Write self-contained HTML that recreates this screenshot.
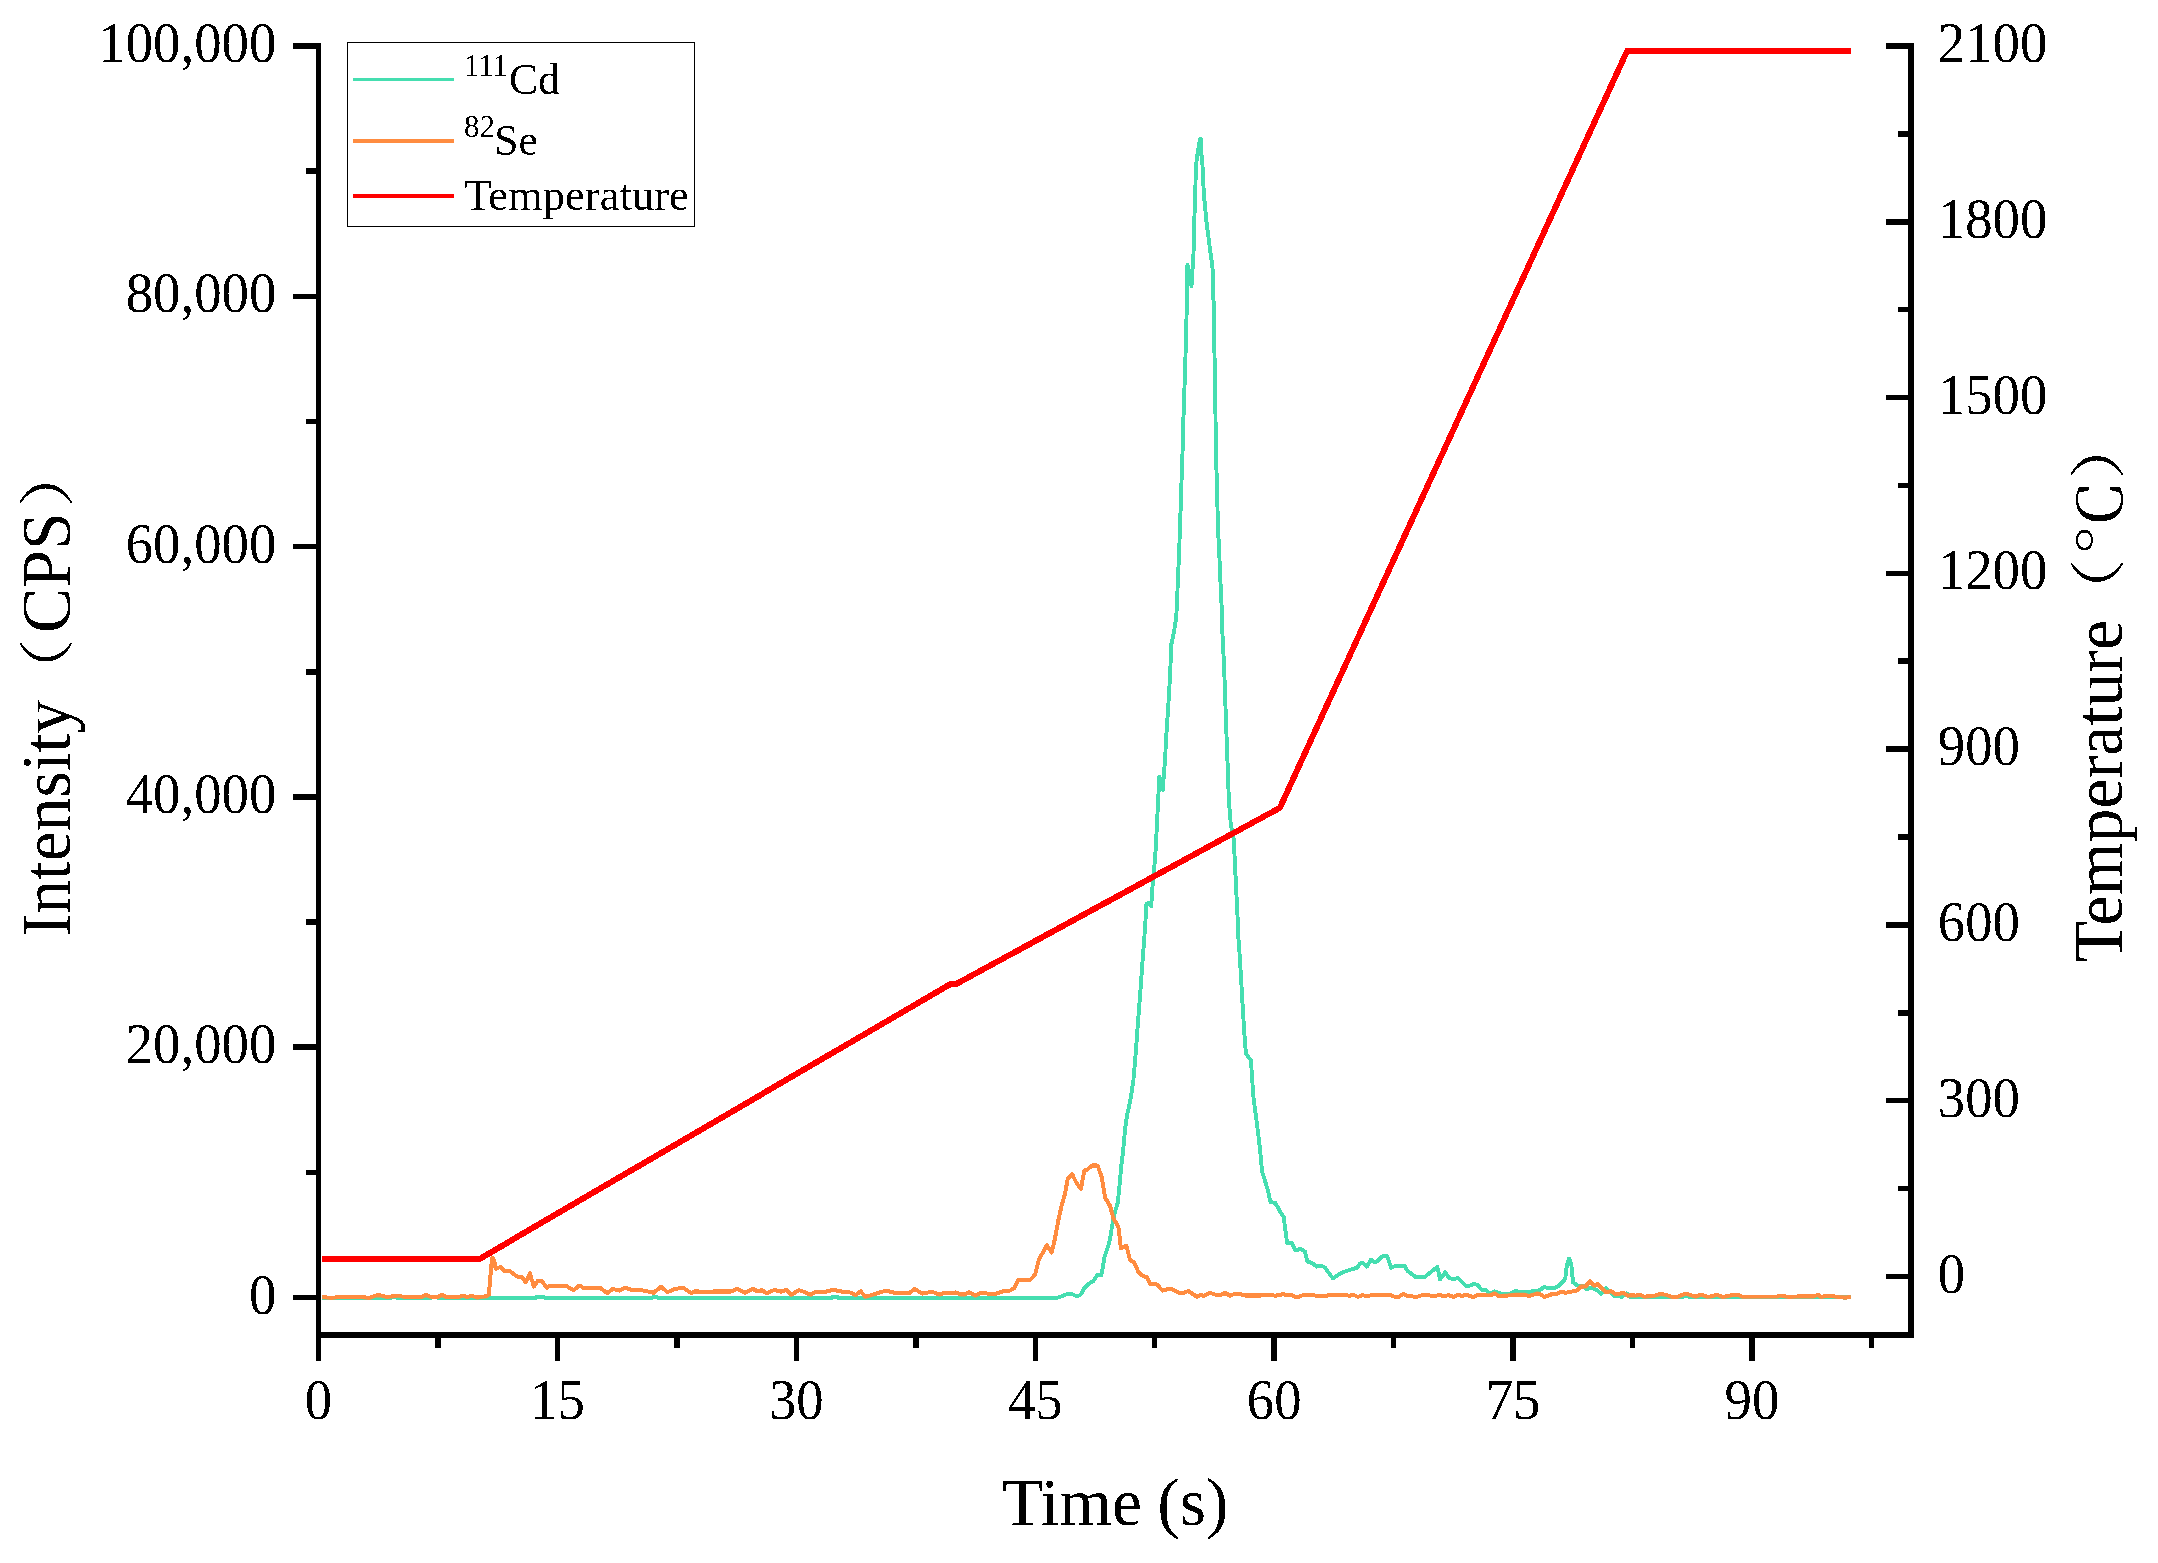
<!DOCTYPE html>
<html lang="en">
<head>
<meta charset="utf-8">
<title>Intensity and temperature versus time</title>
<style>
html,body{margin:0;padding:0;background:#fff;}
body{width:2158px;height:1563px;overflow:hidden;}
svg{display:block;}
text{font-family:"Liberation Serif","Noto Serif CJK SC",serif;}
</style>
</head>
<body>
<svg width="2158" height="1563" viewBox="0 0 2158 1563">
<rect x="0" y="0" width="2158" height="1563" fill="#fff"/>
<defs><filter id="thr" filterUnits="userSpaceOnUse" x="0" y="0" width="2158" height="1563" color-interpolation-filters="sRGB"><feComponentTransfer><feFuncA type="discrete" tableValues="0 1"/></feComponentTransfer></filter></defs>
<g stroke="#000" stroke-width="5.5" fill="none" shape-rendering="crispEdges">
<line x1="318.5" y1="43" x2="318.5" y2="1361"/>
<line x1="316" y1="1335.0" x2="1914" y2="1335.0"/>
<line x1="1911.0" y1="43" x2="1911.0" y2="1338"/>
<line x1="293" y1="1297.5" x2="317" y2="1297.5"/>
<line x1="306" y1="1172.3" x2="317" y2="1172.3"/>
<line x1="293" y1="1047.2" x2="317" y2="1047.2"/>
<line x1="306" y1="922.0" x2="317" y2="922.0"/>
<line x1="293" y1="796.9" x2="317" y2="796.9"/>
<line x1="306" y1="671.8" x2="317" y2="671.8"/>
<line x1="293" y1="546.6" x2="317" y2="546.6"/>
<line x1="306" y1="421.5" x2="317" y2="421.5"/>
<line x1="293" y1="296.3" x2="317" y2="296.3"/>
<line x1="306" y1="171.2" x2="317" y2="171.2"/>
<line x1="293" y1="46.0" x2="317" y2="46.0"/>
<line x1="1886" y1="1276.5" x2="1909" y2="1276.5"/>
<line x1="1898" y1="1188.6" x2="1909" y2="1188.6"/>
<line x1="1886" y1="1100.7" x2="1909" y2="1100.7"/>
<line x1="1898" y1="1012.8" x2="1909" y2="1012.8"/>
<line x1="1886" y1="924.9" x2="1909" y2="924.9"/>
<line x1="1898" y1="837.0" x2="1909" y2="837.0"/>
<line x1="1886" y1="749.1" x2="1909" y2="749.1"/>
<line x1="1898" y1="661.2" x2="1909" y2="661.2"/>
<line x1="1886" y1="573.4" x2="1909" y2="573.4"/>
<line x1="1898" y1="485.5" x2="1909" y2="485.5"/>
<line x1="1886" y1="397.6" x2="1909" y2="397.6"/>
<line x1="1898" y1="309.7" x2="1909" y2="309.7"/>
<line x1="1886" y1="221.8" x2="1909" y2="221.8"/>
<line x1="1898" y1="133.9" x2="1909" y2="133.9"/>
<line x1="1886" y1="46.0" x2="1909" y2="46.0"/>
<line x1="438.0" y1="1337" x2="438.0" y2="1348"/>
<line x1="557.4" y1="1337" x2="557.4" y2="1361"/>
<line x1="676.9" y1="1337" x2="676.9" y2="1348"/>
<line x1="796.3" y1="1337" x2="796.3" y2="1361"/>
<line x1="915.8" y1="1337" x2="915.8" y2="1348"/>
<line x1="1035.3" y1="1337" x2="1035.3" y2="1361"/>
<line x1="1154.7" y1="1337" x2="1154.7" y2="1348"/>
<line x1="1274.2" y1="1337" x2="1274.2" y2="1361"/>
<line x1="1393.6" y1="1337" x2="1393.6" y2="1348"/>
<line x1="1513.1" y1="1337" x2="1513.1" y2="1361"/>
<line x1="1632.6" y1="1337" x2="1632.6" y2="1348"/>
<line x1="1752.0" y1="1337" x2="1752.0" y2="1361"/>
<line x1="1871.5" y1="1337" x2="1871.5" y2="1348"/>
</g>
<g filter="url(#thr)">
<polyline points="322,1298 341.2,1298 363.4,1298 391.1,1298 392.1,1297 396.2,1297 397.2,1298 398.2,1298 430.6,1298 431.6,1297 437,1297 438,1298 439,1298 475,1298 507.4,1298 535.4,1298 536.4,1297 544.2,1297 545.2,1298 546.2,1298 579.3,1298 609.6,1298 625,1298 652,1298 653,1297 657.2,1297 658.2,1298 659.2,1298 692.3,1298 722.1,1298 751.8,1298 774.5,1298 798.3,1298 831.6,1298 832.6,1297 837.4,1297 838.4,1298 839.4,1298 858.2,1298 881.8,1298 902.4,1298 924.9,1298 951.8,1298 985.7,1298 1020.1,1298 1055.9,1298 1060.1,1296.9 1066.8,1294.3 1072.4,1294.3 1076.8,1296.2 1080.7,1294.5 1084.6,1287.8 1089,1283.4 1093.5,1281.1 1097.4,1274.5 1101.3,1275.6 1104.6,1256.7 1109.1,1243.3 1110.1,1238.1 1112.3,1224.7 1114.5,1213.6 1117.8,1202.5 1119.5,1185.8 1121.2,1166.8 1122.9,1152.4 1124,1141.2 1125.1,1129 1126.8,1116.7 1129.5,1104.5 1131.8,1091.1 1133.4,1080 1134,1073.6 1135.7,1053.6 1137.3,1031.3 1139,1009 1140.7,986.8 1142.3,964.5 1144,942.3 1145.5,920 1145.7,915.9 1146.5,903.6 1149,903 1151.2,906.5 1152.4,888 1154,871.3 1155.7,849 1156.8,826.8 1157.9,804.5 1158.5,793.4 1159.3,776.7 1162.9,790 1164,771 1165.2,760 1165.7,744.7 1166.8,728 1167.9,711.3 1169.1,692.4 1170.2,672.4 1171.3,644.5 1174.1,631.2 1176.3,616.7 1177.1,600 1178,576.9 1179.1,553.5 1179.9,529 1181,497.9 1182.1,462.3 1183,440 1183,431.4 1184.1,398 1185.2,366.8 1186,335.7 1186.9,302 1187.2,289 1187.4,264.7 1191.5,286 1193.5,253.6 1194.1,224.6 1195.2,196.8 1195.8,168.4 1196.9,157.2 1197.9,151.1 1198.9,145 1199.9,139.5 1200.6,138.6 1201.2,140 1201.3,152.6 1202.2,161 1203.1,176 1203.5,186.8 1204.5,201.3 1206.3,220.2 1209.1,242.5 1211.4,259.2 1212.7,270.3 1213,294 1213.6,302 1214.1,335.7 1215,380 1215.6,424.7 1216,454 1216.9,484.5 1218,529 1219.2,551.3 1220,573.6 1221.2,595.8 1221.9,614 1221.9,622.3 1223,644.5 1224.2,669 1225,694.6 1226,720.2 1226.9,748 1228,774 1228.1,782.3 1229.2,804.5 1230.8,824.6 1233.6,837.9 1234.2,849 1235.3,871.3 1236.4,893.6 1237.5,915.9 1238.1,934 1239.2,947.8 1240.9,975.7 1242.5,1003.5 1244.2,1031.3 1245.9,1053.6 1250.9,1060.3 1252,1075.8 1253.1,1094 1254.8,1107.8 1257,1124.5 1259.2,1142.3 1260.9,1157.9 1262,1171.3 1264.8,1180.2 1268.1,1191.3 1270.4,1201.9 1275.4,1203 1279.3,1210.2 1283.7,1216.9 1285.4,1230.3 1287.1,1243.1 1291.5,1242.5 1295.4,1250.3 1300.4,1249 1304.9,1251.4 1307.4,1261.7 1311.8,1262.8 1316.8,1266.7 1320.7,1265.6 1324.6,1267.3 1333,1278.4 1341.3,1272.8 1349.1,1270 1356.9,1267.8 1360,1263.4 1362.8,1262.8 1366.7,1266.7 1371.1,1259.5 1374.5,1262.3 1376.7,1261.7 1381.1,1257.3 1383.9,1255.6 1387.2,1256.1 1391.1,1267.8 1395.6,1265.8 1404.5,1265.8 1407.8,1271.2 1415.6,1276.9 1424.5,1277.3 1431.2,1271.7 1437.3,1266.7 1440.1,1279.5 1445.1,1272.3 1449,1277.8 1453.4,1279.5 1457.9,1277.8 1465.7,1285.6 1469.5,1285.8 1474,1283.9 1477.9,1285.1 1482.3,1290.6 1485.7,1289.5 1489.6,1294 1494.6,1291.2 1500.1,1293.4 1507.9,1294.3 1515.1,1291.2 1526.8,1292.3 1532.4,1291.2 1540.2,1290.1 1544.1,1286.7 1548,1288.4 1553.5,1288.4 1559.1,1285.6 1565.2,1278.9 1566.9,1264.5 1569.1,1258.4 1571.3,1264.5 1573,1282.3 1576.9,1285.1 1580,1285.6 1583.3,1285.6 1586.7,1289 1591.1,1287.8 1596.7,1290.1 1601.1,1294 1606.1,1288.1 1613.4,1295.6 1622.3,1296.7 1626.7,1293.4 1630,1296.7 1635.6,1297.3 1655.6,1297.3 1661.2,1296.5 1669,1297.3 1680.1,1297.3 1685.7,1296.2 1691.2,1297.3 1746.8,1297.3 1820,1297.3 1850.9,1297.3" fill="none" stroke="#45deb0" stroke-width="3.9" stroke-linejoin="round"/>
<polyline points="322.2,1297.1 332.2,1297.9 339.7,1296.7 361.9,1297.1 369.3,1297.9 375.2,1295.6 381.2,1295.6 387.1,1297.1 399,1295.6 404.9,1297.1 421.2,1297.1 425.7,1294.9 431.6,1297.1 437.5,1297.1 442,1294.9 446.4,1297.1 458.3,1297.1 462.7,1295.6 467.2,1297.1 471.6,1295.6 477.6,1297.6 480,1296.9 486.7,1296.2 488.9,1294.5 490.6,1273.4 492.2,1257.8 493.9,1260 496.1,1268.9 500.6,1266.7 504.5,1270.9 509.5,1270.9 517.3,1276.7 521.7,1276.9 525.6,1282 529.8,1273.4 533.9,1286.7 537.8,1280.9 541.7,1280.9 546.7,1287.8 550.1,1285.8 559,1285.8 566.7,1286.2 573.4,1290.3 579.3,1285.6 583.4,1287.8 592.3,1288.4 600.1,1287.8 607.3,1293.2 612.9,1288.9 619.6,1290.6 625.1,1287.6 631.3,1289.8 643.5,1290.6 653.5,1292.8 661.3,1286.7 667.4,1292.3 674.6,1288.9 683.5,1287.8 691.3,1293.2 695.2,1291.2 702.4,1291.7 713.5,1291.4 731.1,1291.4 736.7,1288.9 745,1292.8 752.8,1288.9 757.8,1291.4 761.7,1290 766.7,1293.4 774,1290 781.2,1291.7 786.2,1289.8 791.2,1294.7 799,1290 810.7,1294.7 815.7,1292 825.7,1291.7 833.5,1289.8 844.6,1292.3 849,1292 855.7,1295.1 860.7,1291.2 865.2,1296.7 871.3,1295.1 885.7,1290.6 893.5,1292.5 909.1,1293.4 914.6,1288.9 922.4,1293.6 931.3,1291.7 940,1294.5 940,1294.5 943.9,1292.8 952.3,1293.4 955.6,1292.5 961.1,1294.5 964.5,1294.5 968.9,1292.3 975.6,1295.6 981.2,1292.5 989,1293.9 996.7,1293.4 1004.5,1290.9 1010.1,1290.6 1014.5,1287.8 1018.4,1280 1030.1,1279.8 1035.1,1274.5 1038.8,1260 1046.7,1245.1 1051.7,1252.6 1055,1238.4 1058.4,1220.1 1061.7,1205.1 1065.1,1193.4 1067.6,1179.2 1072.1,1174.2 1076.7,1183.4 1080.9,1189.2 1084.2,1170.9 1087.6,1169.2 1092.2,1165.4 1097.6,1165.4 1101.8,1177.5 1105.1,1197.6 1110.1,1205.9 1113.4,1218.4 1118.4,1226.7 1120.9,1248.4 1126.4,1245.9 1130.1,1260 1134.1,1262.2 1138.5,1272.3 1142.4,1275.6 1146.9,1277.3 1150.8,1284.5 1154.7,1283.9 1158,1285 1160,1287.8 1162.8,1290.6 1167.8,1289 1172.3,1289.2 1178.9,1292.8 1183.9,1292.8 1188.4,1291 1196.7,1296.7 1200.6,1295.1 1203.9,1295.8 1209.5,1292.8 1215.6,1294.7 1221.2,1294.7 1225.1,1292.8 1230.1,1295.8 1234,1294 1240.1,1294 1245.1,1295.6 1260.1,1295.6 1262.3,1294.7 1269,1295.6 1271.2,1294.7 1275.1,1295.8 1283.5,1294 1287.9,1295.6 1291.8,1295.1 1295.7,1297 1299,1296.7 1304.6,1294.7 1312.4,1294.7 1316.8,1296.2 1325.7,1296.2 1330.2,1294.7 1345.7,1294.7 1349.1,1295.8 1353.5,1294.7 1358,1297 1362.4,1295.1 1368,1296.2 1372.4,1294.7 1380,1294.7 1391.1,1295.1 1395.6,1297.3 1398.9,1296.7 1403.4,1293.6 1407.8,1296.2 1417.8,1296.7 1423.4,1294.7 1429,1295.1 1432.3,1296.2 1440.1,1295.1 1443.4,1296.2 1449,1295.1 1453.4,1297 1457.9,1294.7 1462.3,1296.2 1465.7,1294.7 1473.4,1297 1477.9,1294.7 1490.1,1295.4 1494.6,1293.4 1499,1296.2 1507.9,1295.6 1515.7,1294.7 1524.6,1294.7 1529,1296.2 1536.8,1293.6 1540.2,1294 1544.1,1297 1552.4,1294 1558,1293.4 1561.3,1291.7 1565.7,1292.8 1576.9,1290.6 1581.3,1286.2 1585.8,1286.5 1589.7,1281.2 1594.1,1285.6 1598,1283.9 1600,1286.7 1606.1,1292.3 1611.1,1291.2 1615.6,1294.3 1618.9,1294 1622.8,1292.8 1627.8,1295.6 1635.6,1295.6 1640.1,1294.7 1644.5,1296.7 1655.6,1295.4 1660.6,1294 1665.6,1294.7 1673.4,1297.3 1677.9,1296.7 1685.7,1293.6 1695.7,1296.7 1701.2,1294.7 1706.8,1296.7 1712.3,1296.2 1717.3,1294.7 1722.4,1297 1726.8,1296.2 1733.5,1294.7 1739,1295.1 1742.4,1296.7 1776.8,1296.5 1780.2,1295.6 1789.1,1297 1796.9,1296.5 1813.5,1296.5 1818,1294.7 1820,1296.5 1821.7,1296.9 1826.7,1295.7 1831.8,1296.1 1838.4,1296.9 1845.9,1297.4 1850.9,1296.7" fill="none" stroke="#ff8c40" stroke-width="4.0" stroke-linejoin="round"/>
<polyline points="322,1258.8 479.8,1258.8 950.8,983.9 956.4,983.9 1279.8,807.9 1627.2,50.8 1850.9,50.8" fill="none" stroke="#ff0000" stroke-width="6" stroke-linejoin="round"/>
</g>
<g font-size="56.5" fill="#000" filter="url(#thr)">
<text x="276.4" y="1313.5" text-anchor="end" textLength="27.4" lengthAdjust="spacingAndGlyphs">0</text>
<text x="276.4" y="1063.2" text-anchor="end" textLength="150.7" lengthAdjust="spacingAndGlyphs">20,000</text>
<text x="276.4" y="812.9" text-anchor="end" textLength="150.7" lengthAdjust="spacingAndGlyphs">40,000</text>
<text x="276.4" y="562.6" text-anchor="end" textLength="150.7" lengthAdjust="spacingAndGlyphs">60,000</text>
<text x="276.4" y="312.3" text-anchor="end" textLength="150.7" lengthAdjust="spacingAndGlyphs">80,000</text>
<text x="276.4" y="62.0" text-anchor="end" textLength="178.1" lengthAdjust="spacingAndGlyphs">100,000</text>
<text x="1937.8" y="1292.5" textLength="27.4" lengthAdjust="spacingAndGlyphs">0</text>
<text x="1937.8" y="1116.7" textLength="82.2" lengthAdjust="spacingAndGlyphs">300</text>
<text x="1937.8" y="940.9" textLength="82.2" lengthAdjust="spacingAndGlyphs">600</text>
<text x="1937.8" y="765.1" textLength="82.2" lengthAdjust="spacingAndGlyphs">900</text>
<text x="1937.8" y="589.4" textLength="109.6" lengthAdjust="spacingAndGlyphs">1200</text>
<text x="1937.8" y="413.6" textLength="109.6" lengthAdjust="spacingAndGlyphs">1500</text>
<text x="1937.8" y="237.8" textLength="109.6" lengthAdjust="spacingAndGlyphs">1800</text>
<text x="1937.8" y="62.0" textLength="109.6" lengthAdjust="spacingAndGlyphs">2100</text>
<text x="318.5" y="1419.3" text-anchor="middle" textLength="27.4" lengthAdjust="spacingAndGlyphs">0</text>
<text x="557.4" y="1419.3" text-anchor="middle" textLength="54.8" lengthAdjust="spacingAndGlyphs">15</text>
<text x="796.3" y="1419.3" text-anchor="middle" textLength="54.8" lengthAdjust="spacingAndGlyphs">30</text>
<text x="1035.3" y="1419.3" text-anchor="middle" textLength="54.8" lengthAdjust="spacingAndGlyphs">45</text>
<text x="1274.2" y="1419.3" text-anchor="middle" textLength="54.8" lengthAdjust="spacingAndGlyphs">60</text>
<text x="1513.1" y="1419.3" text-anchor="middle" textLength="54.8" lengthAdjust="spacingAndGlyphs">75</text>
<text x="1752.0" y="1419.3" text-anchor="middle" textLength="54.8" lengthAdjust="spacingAndGlyphs">90</text>
</g>
<g fill="#000" filter="url(#thr)">
<text x="1002.0" y="1524.6" font-size="67.5">Time<tspan dx="-1.6"> (s)</tspan></text>
<text transform="translate(70.2,936.3) rotate(-90) scale(1.0,1.04)" font-size="67.5">Intensity</text>
<text transform="translate(67.2,705.5) rotate(-90) scale(1.0,0.83)" font-size="67.5">（</text>
<text transform="translate(70.2,633.0) rotate(-90) scale(1.005,1.04)" font-size="67.5">CPS</text>
<text transform="translate(67.2,507.5) rotate(-90) scale(1.0,0.83)" font-size="67.5">）</text>
<text transform="translate(2122.3,962.2) rotate(-90) scale(1.007,1.04)" font-size="67.5">Temperature</text>
<text transform="translate(2118.1,625.7) rotate(-90) scale(1.0,0.83)" font-size="67.5">（</text>
<text transform="translate(2122.0,556.2) rotate(-90) scale(1.14,0.9)" font-size="67.5">℃</text>
<text transform="translate(2118.1,479.5) rotate(-90) scale(1.0,0.83)" font-size="67.5">）</text>
</g>
<rect x="347.5" y="42.5" width="347" height="184" fill="#fff" stroke="#000" stroke-width="1" shape-rendering="crispEdges"/>
<g shape-rendering="crispEdges" fill="none">
<rect x="353" y="78" width="101" height="3" fill="#45deb0"/>
<rect x="353" y="139" width="101" height="4" fill="#ff8c40"/>
<rect x="353" y="194" width="101" height="4" fill="#ff0000"/>
</g>
<g fill="#000" filter="url(#thr)">
<text x="463.8" y="76" font-size="31">111</text>
<text x="509.0" y="94.4" font-size="43.5">Cd</text>
<text x="464.0" y="137" font-size="31">82</text>
<text x="494.2" y="155.3" font-size="43.5">Se</text>
<text x="464.2" y="210.3" font-size="44.6">Temperature</text>
</g>
</svg>
</body>
</html>
